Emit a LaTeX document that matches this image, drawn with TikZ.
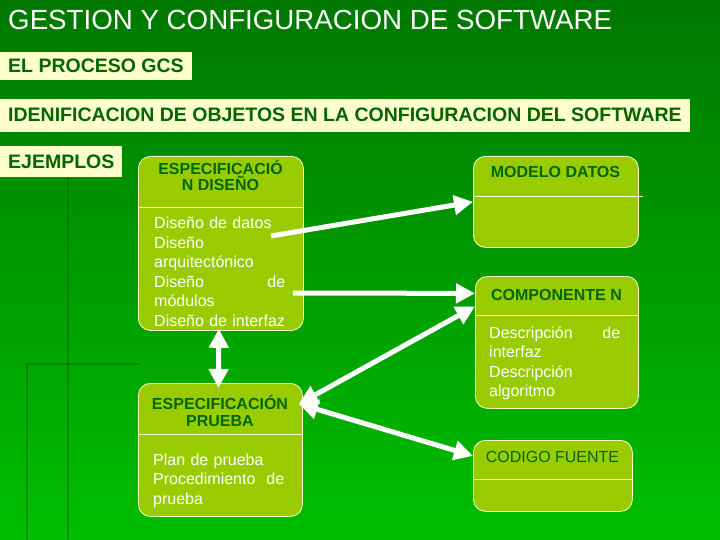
\documentclass[tikz,border=0pt]{standalone}
\usepackage{fontspec}
\setmainfont{Liberation Sans}
\usetikzlibrary{positioning,arrows.meta}
\definecolor{bgdark}{RGB}{0,120,0}
\definecolor{bglight}{RGB}{0,190,0}
\definecolor{seam}{RGB}{0,100,0}
\definecolor{cream}{RGB}{255,255,204}
\definecolor{cardfill}{RGB}{153,204,0}
\definecolor{inkgreen}{RGB}{0,102,0}
\tikzset{
	tag/.style = {fill=cream, text=inkgreen, inner xsep=8pt,
	 font=\bfseries\fontsize{19.5}{22}\selectfont},
	card/.style = {draw=cream, line width=0.8pt, fill=cardfill,
	 rounded corners=12pt, anchor=north west, inner sep=0pt},
	seprule/.style = {draw=cream, line width=0.8pt},
	cardhead/.style = {text=inkgreen, font=\bfseries\fontsize{16}{17}\selectfont,
	 align=center, anchor=base, inner sep=0pt},
	cardbody/.style = {text=white, font=\fontsize{16}{19.5}\selectfont,
	 align=left, anchor=base west, inner sep=0pt},
	link/.style = {draw=white, line width=5pt, -{Triangle[length=19pt,width=19pt]}},
	twoway/.style = {link, {Triangle[length=19pt,width=19pt]}-{Triangle[length=19pt,width=19pt]}}
}

\begin{document}
\begin{tikzpicture}[x=1pt, y=-1pt]

% BACKGROUND
\shade[shading angle=-40, top color=bgdark, bottom color=bglight] (0,0) rectangle (720,540);
\useasboundingbox (0,0) rectangle (720,540);
\draw[seam, opacity=0.45, line width=2.5pt] (68,176) -- (68,540);
\draw[seam, opacity=0.45, line width=2.5pt] (25,364) -- (140,364);
\draw[seam, opacity=0.45, line width=2.5pt] (27,364) -- (27,540);

% NODES
% titles
\node (title) [anchor=base west, text=white, inner sep=0pt,
  font=\fontsize{27.7}{30}\selectfont] at (8,30) {GESTION Y CONFIGURACION DE SOFTWARE};
\node (proceso) [tag, anchor=north west, minimum height=28pt] at (0,52) {EL PROCESO GCS};
\node (objetos) [tag, minimum height=33pt, below right=18pt and 0pt of proceso.south west]
  {IDENIFICACION DE OBJETOS EN LA CONFIGURACION DEL SOFTWARE};
\node (ejemplos) [tag, minimum height=31pt, below right=14pt and 0pt of objetos.south west] {EJEMPLOS};
% especificacion diseno
\node (disenio) [card, minimum width=165pt, minimum height=174pt] at (138,156) {};
\draw[seprule] (138,207) -- (303,207);
\node (disenioHead) [cardhead] at (220.5,191) {ESPECIFICACIÓ\\N DISEÑO};
\node (disenioBody) [cardbody, text width=131pt] at (154,229)
  {Diseño de datos\\Diseño\\arquitectónico\\Diseño\hfill de\\módulos\\\mbox{Diseño de interfaz}};
% especificacion prueba
\node (prueba) [card, minimum width=164pt, minimum height=133pt] at (138,383) {};
\draw[seprule] (138,434) -- (302,434);
\node (pruebaHead) [cardhead] at (220,426) {ESPECIFICACIÓN\\PRUEBA};
\node (pruebaBody) [cardbody, text width=131pt] at (153,465)
  {Plan de prueba\\Procedimiento\hfill de\\prueba};
% modelo datos
\node (modelo) [card, minimum width=165pt, minimum height=91pt] at (473,156) {};
\draw[seprule] (473,196) -- (643,196);
\node (modeloHead) [cardhead] at (555.5,178) {MODELO DATOS};
% componente
\node (componente) [card, minimum width=163pt, minimum height=132pt] at (475,276) {};
\draw[seprule] (475,315) -- (638,315);
\node (componenteHead) [cardhead] at (556.5,300) {COMPONENTE N};
\node (componenteBody) [cardbody, text width=131pt] at (489,338)
  {Descripción\hfill de\\interfaz\\Descripción\\algoritmo};
% codigo fuente
\node (codigo) [card, minimum width=159pt, minimum height=71pt] at (473,440) {};
\draw[seprule] (473,479) -- (633,479);
\node (codigoHead) [cardhead, font=\fontsize{16}{17}\selectfont] at (552.5,462) {CODIGO FUENTE};

%CONNECTIONS
\coordinate (datosEnd) at (271,236);
\coordinate (modulosEnd) at (293,293);
\draw[link] (datosEnd) -- (modelo.west);
\draw[link] (modulosEnd) -- ([yshift=49pt]componente.west);
\draw[twoway] ([xshift=-2pt,yshift=2pt]disenio.south) -- ([xshift=-2pt,yshift=-5pt]prueba.north);
\draw[twoway] ([xshift=-4pt,yshift=46pt]prueba.east) -- ([yshift=36pt]componente.west);
\draw[twoway] ([xshift=-4pt,yshift=46pt]prueba.east) -- ([yshift=20pt]codigo.west);

\end{tikzpicture}
\end{document}
